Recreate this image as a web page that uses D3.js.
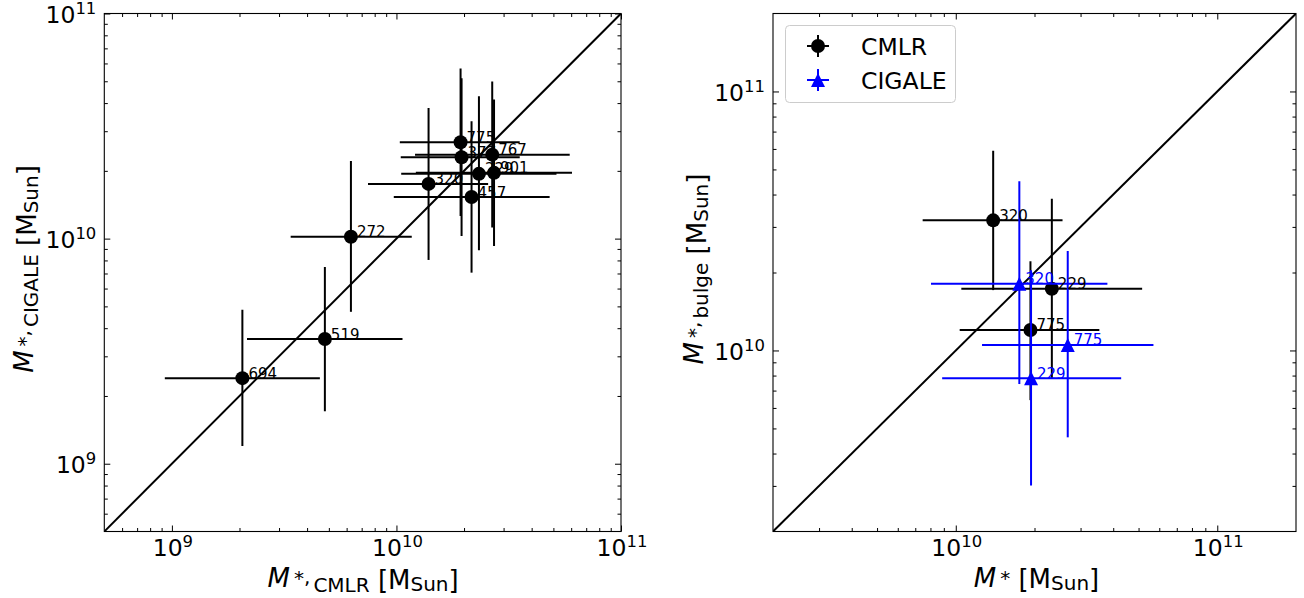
<!DOCTYPE html>
<html>
<head>
<meta charset="utf-8">
<script src="https://cdn.jsdelivr.net/npm/d3@7"></script>
<style>
  body { margin: 0; background: #fff; }
  svg { display: block; }
  text { font-family: "DejaVu Sans", sans-serif; fill: #000; }
</style>
</head>
<body>
<svg id="fig" width="1304" height="598"></svg>
<script>
// ---- Total stellar masses per galaxy (M_Sun) ----
const galaxyIds   = ["229", "272", "320", "377", "457", "519", "694", "767", "775", "901"];
const massCmlr    = [2.33e10, 6.27e9, 1.39e10, 1.95e10, 2.16e10, 4.80e9, 2.06e9, 2.67e10, 1.93e10, 2.72e10];
const massCmlrLo  = [1.05e10, 3.38e9, 7.47e9, 1.045e10, 9.73e9, 2.16e9, 9.3e8, 1.21e10, 1.035e10, 1.22e10];
const massCmlrHi  = [5.16e10, 1.17e10, 2.56e10, 3.54e10, 4.81e10, 1.064e10, 4.56e9, 5.91e10, 3.54e10, 6.05e10];
const massCigale   = [1.94e10, 1.02e10, 1.75e10, 2.30e10, 1.53e10, 3.58e9, 2.40e9, 2.36e10, 2.68e10, 1.96e10];
const massCigaleLo = [8.87e9, 4.73e9, 8.04e9, 1.027e10, 7.06e9, 1.71e9, 1.20e9, 1.12e10, 1.26e10, 9.27e9];
const massCigaleHi = [4.29e10, 2.21e10, 3.80e10, 5.16e10, 3.32e10, 7.48e9, 4.83e9, 4.99e10, 5.70e10, 4.15e10];

// ---- Bulge masses (M_Sun) for the decomposed galaxies ----
const bulgeIds      = ["320", "229", "775"];
const bulgeCmlr     = [3.18e10, 1.73e10, 1.20e10];
const bulgeCmlrLo   = [1.71e10, 7.82e9, 6.43e9];
const bulgeCmlrHi   = [5.91e10, 3.85e10, 2.21e10];
const bulgeCigale   = [1.81e10, 7.82e9, 1.05e10];
const bulgeCigaleLo = [7.42e9, 3.01e9, 4.62e9];
const bulgeCigaleHi = [4.50e10, 2.04e10, 2.42e10];

// ---- Axis limits and tick exponents ----
const leftLimits  = [5e8, 1e11];
const rightLimits = [2e9, 2e11];
const leftXTicks  = [9, 10, 11];
const leftYTicks  = [9, 10, 11];
const rightXTicks = [10, 11];
const rightYTicks = [10, 11];
const legendLabels = ["CMLR", "CIGALE"];

const svg = d3.select("#fig");
const TICK_FS = 23.5, LABEL_FS = 26, SUB_FS = 20, NOTE_FS = 15;

const panels = {
  left:  { x0: 104.3, x1: 621,  y0: 13.5, y1: 531.5, lim: leftLimits },
  right: { x0: 773,   x1: 1296, y0: 13.5, y1: 531.5, lim: rightLimits }
};
for (const p of Object.values(panels)) {
  p.x = d3.scaleLog().domain(p.lim).range([p.x0, p.x1]);
  p.y = d3.scaleLog().domain(p.lim).range([p.y1, p.y0]);
}

function minorTicks(lim) {
  const out = [];
  const lo = Math.floor(Math.log10(lim[0])), hi = Math.ceil(Math.log10(lim[1]));
  for (let e = lo; e <= hi; e++) {
    for (let m = 2; m <= 9; m++) {
      const v = m * Math.pow(10, e);
      if (v > lim[0] && v < lim[1]) out.push(v);
    }
  }
  return out;
}

function powerLabel(sel, exp) {
  sel.append("tspan").text("10");
  sel.append("tspan").attr("font-size", TICK_FS * 0.7).attr("dy", -9).text(exp);
}

function drawAxes(p, xTicks, yTicks, id) {
  const g = svg.append("g");
  const majX = xTicks.map(e => Math.pow(10, e));
  const majY = yTicks.map(e => Math.pow(10, e));
  const minor = minorTicks(p.lim);
  const H = p.y1 - p.y0, W = p.x1 - p.x0;

  const mk = (axisFn, scale, vals, size, tr) => {
    const a = g.append("g").attr("transform", tr)
      .call(axisFn(scale).tickValues(vals).tickSize(size).tickFormat(() => ""));
    a.select(".domain").remove();
    a.selectAll("line").attr("stroke", "#000").attr("stroke-width", 1);
    return a;
  };
  // ticks point inward on all four sides
  mk(d3.axisBottom, p.x, majX, -6, `translate(0,${p.y1})`);
  mk(d3.axisBottom, p.x, minor, -3.5, `translate(0,${p.y1})`);
  mk(d3.axisTop, p.x, majX, -6, `translate(0,${p.y0})`);
  mk(d3.axisTop, p.x, minor, -3.5, `translate(0,${p.y0})`);
  mk(d3.axisLeft, p.y, majY, -6, `translate(${p.x0},0)`);
  mk(d3.axisLeft, p.y, minor, -3.5, `translate(${p.x0},0)`);
  mk(d3.axisRight, p.y, majY, -6, `translate(${p.x1},0)`);
  mk(d3.axisRight, p.y, minor, -3.5, `translate(${p.x1},0)`);

  // tick labels
  majX.forEach((v, i) => {
    const t = g.append("text").attr("x", p.x(v) + 1).attr("y", p.y1 + 24)
      .attr("text-anchor", "middle").attr("font-size", TICK_FS);
    powerLabel(t, xTicks[i]);
  });
  majY.forEach((v, i) => {
    const t = g.append("text").attr("x", p.x0 - 8).attr("y", p.y(v) + 9.5)
      .attr("text-anchor", "end").attr("font-size", TICK_FS);
    powerLabel(t, yTicks[i]);
  });

  // frame
  g.append("rect").attr("x", p.x0).attr("y", p.y0).attr("width", W).attr("height", H)
    .attr("fill", "none").attr("stroke", "#000").attr("stroke-width", 1.1);

  // clip region for data
  svg.append("clipPath").attr("id", id).append("rect")
    .attr("x", p.x0).attr("y", p.y0).attr("width", W).attr("height", H);
}

// mathtext-like axis label: M_{*,sub} [M_Sun]
function massLabel(g, sub) {
  const t = g.append("text").attr("font-size", LABEL_FS);
  t.append("tspan").attr("font-style", "italic").text("M");
  t.append("tspan").attr("font-size", SUB_FS).attr("dx", 4).attr("dy", -1.5).text("*");
  if (sub) {
    t.append("tspan").attr("font-size", SUB_FS).attr("dy", -1.5).text(",");
    t.append("tspan").attr("font-size", SUB_FS).attr("dx", 3).attr("dy", 8).text(sub);
    t.append("tspan").attr("dy", -2.5).text("\u00a0[M");
  } else {
    t.append("tspan").attr("dy", 3).text("\u00a0[M");
  }
  t.append("tspan").attr("font-size", SUB_FS).attr("dy", 2).text("Sun");
  t.append("tspan").attr("dy", -2).text("]");
  return t;
}

function centerLabel(t, cx, baseY, rotate) {
  const w = t.node().getComputedTextLength();
  if (rotate) {
    t.attr("transform", `translate(${baseY},${cx}) rotate(-90) translate(${-w / 2},0)`);
  } else {
    t.attr("transform", `translate(${cx - w / 2},${baseY})`);
  }
}

function errorMarks(layer, p, xs, xlo, xhi, ys, ylo, yhi, color, shape) {
  xs.forEach((xv, i) => {
    const cx = p.x(xv), cy = p.y(ys[i]);
    layer.append("line").attr("x1", p.x(xlo[i])).attr("x2", p.x(xhi[i]))
      .attr("y1", cy).attr("y2", cy).attr("stroke", color).attr("stroke-width", 2);
    layer.append("line").attr("x1", cx).attr("x2", cx)
      .attr("y1", p.y(ylo[i])).attr("y2", p.y(yhi[i])).attr("stroke", color).attr("stroke-width", 2);
    if (shape === "circle") {
      layer.append("circle").attr("cx", cx).attr("cy", cy).attr("r", 7).attr("fill", color);
    } else {
      layer.append("path").attr("d", `M${cx},${cy - 7}L${cx - 7},${cy + 7}L${cx + 7},${cy + 7}Z`)
        .attr("fill", color);
    }
  });
}

function notes(layer, p, xs, ys, ids, color) {
  xs.forEach((xv, i) => {
    layer.append("text").attr("x", p.x(xv) + 6).attr("y", p.y(ys[i]) + 0.5)
      .attr("font-size", NOTE_FS).attr("fill", color).style("fill", color).text(ids[i]);
  });
}

function diagonal(layer, p) {
  layer.append("line")
    .attr("x1", p.x(p.lim[0])).attr("y1", p.y(p.lim[0]))
    .attr("x2", p.x(p.lim[1])).attr("y2", p.y(p.lim[1]))
    .attr("stroke", "#000").attr("stroke-width", 2);
}

// ================= Left panel: CIGALE vs CMLR total mass =================
const L = panels.left;
const leftData = svg.append("g").attr("clip-path", "url(#clipL)");
drawAxes(L, leftXTicks, leftYTicks, "clipL");
diagonal(leftData, L);
errorMarks(leftData, L, massCmlr, massCmlrLo, massCmlrHi, massCigale, massCigaleLo, massCigaleHi, "#000", "circle");
notes(leftData, L, massCmlr, massCigale, galaxyIds, "#000");

centerLabel(massLabel(svg.append("g"), "CMLR"), (L.x0 + L.x1) / 2 - 3, 586.5, false);
centerLabel(massLabel(svg.append("g"), "CIGALE"), (L.y0 + L.y1) / 2, 33, true);

// ================= Right panel: bulge mass vs total mass =================
const R = panels.right;
const rightData = svg.append("g").attr("clip-path", "url(#clipR)");
drawAxes(R, rightXTicks, rightYTicks, "clipR");
diagonal(rightData, R);

const lookup = (arr) => bulgeIds.map(id => arr[galaxyIds.indexOf(id)]);
const bxC = lookup(massCmlr), bxCLo = lookup(massCmlrLo), bxCHi = lookup(massCmlrHi);
const bxG = lookup(massCigale), bxGLo = lookup(massCigaleLo), bxGHi = lookup(massCigaleHi);

errorMarks(rightData, R, bxC, bxCLo, bxCHi, bulgeCmlr, bulgeCmlrLo, bulgeCmlrHi, "#000", "circle");
errorMarks(rightData, R, bxG, bxGLo, bxGHi, bulgeCigale, bulgeCigaleLo, bulgeCigaleHi, "#0000ff", "triangle");
notes(rightData, R, bxC, bulgeCmlr, bulgeIds, "#000");
notes(rightData, R, bxG, bulgeCigale, bulgeIds, "#0000ff");

centerLabel(massLabel(svg.append("g"), null), (R.x0 + R.x1) / 2, 586.5, false);
centerLabel(massLabel(svg.append("g"), "bulge"), (R.y0 + R.y1) / 2, 703, true);

// legend
const leg = svg.append("g");
leg.append("rect").attr("x", 785.5).attr("y", 25.5).attr("width", 170).attr("height", 77)
  .attr("rx", 4).attr("fill", "#fff").attr("fill-opacity", 0.8)
  .attr("stroke", "#cccccc").attr("stroke-width", 1);
const legendColors = ["#000", "#0000ff"];
const legendShapes = ["circle", "triangle"];
legendLabels.forEach((lab, i) => {
  const cy = 46 + i * 34, cx = 818;
  leg.append("line").attr("x1", cx - 11).attr("x2", cx + 11).attr("y1", cy).attr("y2", cy)
    .attr("stroke", legendColors[i]).attr("stroke-width", 2);
  leg.append("line").attr("x1", cx).attr("x2", cx).attr("y1", cy - 11).attr("y2", cy + 11)
    .attr("stroke", legendColors[i]).attr("stroke-width", 2);
  if (legendShapes[i] === "circle") {
    leg.append("circle").attr("cx", cx).attr("cy", cy).attr("r", 7).attr("fill", legendColors[i]);
  } else {
    leg.append("path").attr("d", `M${cx},${cy - 7}L${cx - 7},${cy + 7}L${cx + 7},${cy + 7}Z`)
      .attr("fill", legendColors[i]);
  }
  leg.append("text").attr("x", 861).attr("y", cy + 8.5).attr("font-size", TICK_FS).text(lab);
});
</script>
</body>
</html>
